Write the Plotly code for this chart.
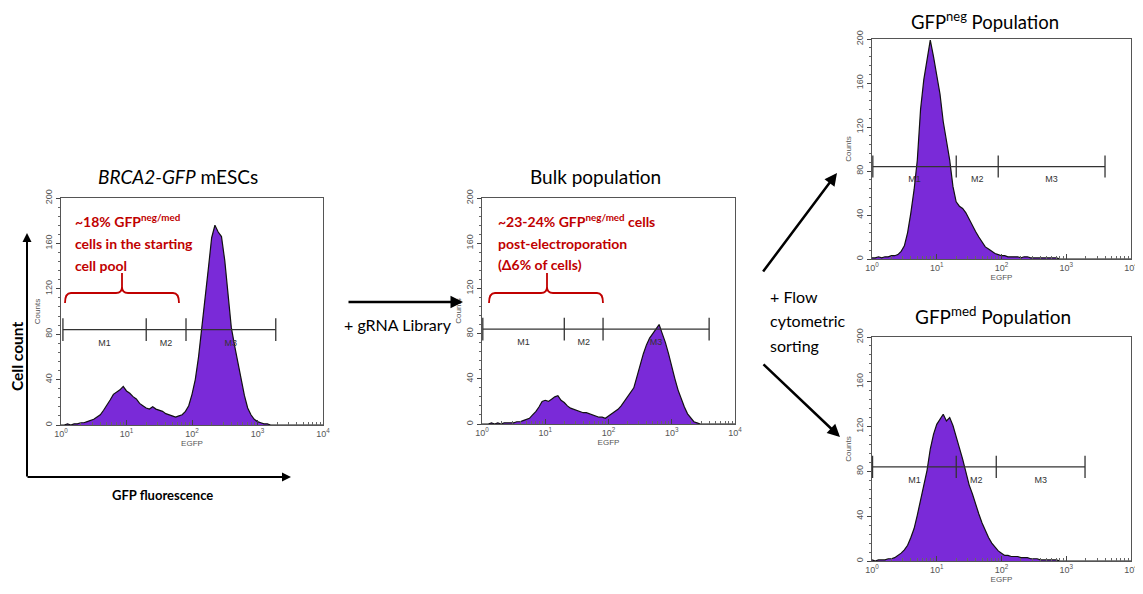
import plotly.graph_objects as go

# page body adds an 8px offset; the figure fills the rest of the 1143x594 window
OFF = 8
W, H = 1143 - OFF, 594 - OFF

# ---------------- data ----------------
# EGFP channels on a log10 scale (0.05-decade bins from 10^0 to 10^4)
log_channels = [i * 0.05 for i in range(81)]
egfp = [10 ** v for v in log_channels]

brca2_counts = [0, 0, 1, 0, 1, 1, 2, 2, 3, 4,
                5, 7, 9, 13, 17, 22, 27, 29, 31, 34,
                30, 28, 25, 23, 19, 17, 15, 14, 16, 14,
                13, 12, 10, 9, 8, 7, 8, 9, 12, 17,
                27, 40, 60, 85, 108, 138, 165, 176, 170, 166,
                145, 115, 86, 70, 55, 39, 26, 15, 9, 5,
                3, 2, 1, 1, 0, 0, 0, 0, 0, 0,
                0, 0, 0, 0, 0, 0, 0, 0, 0, 0,
                0]
bulk_counts = [0, 0, 0, 1, 0, 1, 0, 1, 1, 1,
               1, 2, 2, 3, 4, 5, 8, 11, 15, 20,
               21, 20, 22, 24, 25, 21, 19, 16, 14, 13,
               12, 11, 10, 10, 9, 8, 7, 6, 6, 5,
               7, 9, 11, 13, 16, 20, 23, 27, 32, 42,
               53, 62, 70, 76, 80, 84, 88, 80, 72, 62,
               50, 40, 30, 22, 15, 9, 5, 2, 1, 0,
               0, 0, 0, 0, 0, 0, 0, 0, 0, 0,
               0]
neg_counts = [1, 1, 2, 1, 2, 2, 3, 3, 4, 7,
              12, 24, 42, 63, 90, 136, 163, 181, 199, 184,
              168, 150, 125, 106, 90, 66, 52, 48, 46, 42,
              36, 31, 25, 20, 15, 11, 9, 7, 5, 4,
              3, 3, 2, 2, 2, 2, 1, 2, 2, 1,
              1, 1, 1, 1, 1, 1, 1, 1, 0, 0,
              0, 0, 0, 0, 0, 0, 0, 0, 0, 0,
              0, 0, 0, 0, 0, 0, 0, 0, 0, 0,
              0]
med_counts = [1, 0, 1, 1, 1, 2, 2, 3, 5, 7,
              10, 14, 21, 29, 41, 54, 68, 81, 100, 113,
              122, 127, 131, 125, 128, 121, 112, 101, 91, 80,
              68, 60, 50, 42, 34, 27, 21, 16, 12, 9,
              7, 5, 5, 4, 4, 4, 3, 3, 3, 2,
              2, 2, 1, 1, 1, 1, 1, 1, 0, 0,
              0, 0, 0, 0, 0, 0, 0, 0, 0, 0,
              0, 0, 0, 0, 0, 0, 0, 0, 0, 0,
              0]

# marker gate boundaries (M1 | M2 | M3) in EGFP units
brca2_gates = [1.07, 20, 81, 1900]
bulk_gates = [1.03, 20, 82, 3900]
neg_gates = [1.03, 20, 89, 3970]
med_gates = [1.02, 20, 83, 1950]
gate_level = 84
gate_names = ["M1", "M2", "M3"]

x_tickvals = [1, 10, 100, 1000, 10000]
x_ticktext = ["10<sup>0</sup>", "10<sup>1</sup>", "10<sup>2</sup>", "10<sup>3</sup>", "10<sup>4</sup>"]
x_minor = [m * d for d in [1, 10, 100, 1000] for m in range(2, 10)]
y_tickvals = [0, 40, 80, 120, 160, 200]

# ---------------- layout helpers (window pixel -> paper) ----------------
def px(x):
    return (x - OFF) / W

def py(y):
    return 1 - (y - OFF) / H

PURPLE = "#7A2AD8"
RED = "#C00000"
TXT = "Lato, 'Open Sans', sans-serif"
SMALL = "Liberation Sans, Arial, sans-serif"

panels = [
    dict(counts=brca2_counts, gates=brca2_gates, xd=(61, 323), yd=(198, 425)),
    dict(counts=bulk_counts, gates=bulk_gates, xd=(482, 735), yd=(198, 424)),
    dict(counts=neg_counts, gates=neg_gates, xd=(872, 1131), yd=(39, 259)),
    dict(counts=med_counts, gates=med_gates, xd=(872, 1131), yd=(337, 561)),
]

fig = go.Figure()
layout = dict(width=W, height=H, margin=dict(l=0, r=0, t=0, b=0, autoexpand=False),
              paper_bgcolor="white", plot_bgcolor="white", showlegend=False)

for i, p in enumerate(panels, start=1):
    xa = "x" if i == 1 else f"x{i}"
    ya = "y" if i == 1 else f"y{i}"
    fig.add_trace(go.Scatter(x=egfp, y=p["counts"], mode="lines", fill="tozeroy",
                             fillcolor=PURPLE, line=dict(color="#111", width=1.2),
                             xaxis=xa, yaxis=ya, hoverinfo="skip"))
    g = p["gates"]
    gx, gy = [g[0], g[3], None], [gate_level, gate_level, None]
    for v in g:
        gx += [v, v, None]
        gy += [gate_level - 10, gate_level + 10, None]
    fig.add_trace(go.Scatter(x=gx, y=gy, mode="lines", line=dict(color="#333", width=1.3),
                             xaxis=xa, yaxis=ya, hoverinfo="skip"))
    lx = [(g[k] * g[k + 1]) ** 0.5 for k in range(3)]
    fig.add_trace(go.Scatter(x=lx, y=[gate_level - 12] * 3, mode="text", text=gate_names,
                             textfont=dict(size=9, color="#333", family=SMALL),
                             xaxis=xa, yaxis=ya, hoverinfo="skip"))
    layout["xaxis" if i == 1 else f"xaxis{i}"] = dict(
        type="log", range=[0, 4], domain=[px(p["xd"][0]), px(p["xd"][1])],
        anchor=ya, automargin=False, showline=True, mirror=True, linecolor="#555", linewidth=1,
        showgrid=False, zeroline=False, ticks="inside", ticklen=5, tickcolor="#444",
        tickvals=x_tickvals, ticktext=x_ticktext,
        tickfont=dict(size=9, color="#555", family=SMALL),
        minor=dict(tickvals=x_minor, ticks="inside", ticklen=3, tickcolor="#666", showgrid=False),
        title=dict(text="EGFP", font=dict(size=8, color="#555", family=SMALL), standoff=2))
    layout["yaxis" if i == 1 else f"yaxis{i}"] = dict(
        range=[0, 200], domain=[py(p["yd"][1]), py(p["yd"][0])],
        anchor=xa, automargin=False, showline=True, mirror=True, linecolor="#555", linewidth=1,
        showgrid=False, zeroline=False, ticks="outside", ticklen=4, tickcolor="#444",
        tickvals=y_tickvals, tickangle=-90,
        tickfont=dict(size=9, color="#555", family=SMALL),
        minor=dict(dtick=8, ticks="outside", ticklen=2, tickcolor="#666", showgrid=False),
        title=dict(text="Counts", font=dict(size=8, color="#555", family=SMALL), standoff=2))

ann = []

def text(x, y, t, size, color="black", anchor="center", angle=0):
    ann.append(dict(x=px(x), y=py(y), xref="paper", yref="paper", text=t, showarrow=False,
                    xanchor=anchor, yanchor="middle", textangle=angle,
                    font=dict(family=TXT, size=size, color=color)))

def arrow(hx, hy, tx, ty, width=2.5, size=1.0):
    ann.append(dict(x=px(hx), y=py(hy), xref="paper", yref="paper", text="",
                    showarrow=True, ax=tx - hx, ay=ty - hy, axref="pixel", ayref="pixel",
                    arrowhead=2, arrowsize=size, arrowwidth=width, arrowcolor="black",
                    standoff=0, startstandoff=0))

# titles
text(178, 177, "<i>BRCA2-GFP</i> mESCs", 19)
text(595, 176, "Bulk population", 19)
text(985, 21, "GFP<sup>neg</sup> Population", 18.5)
text(993, 315, "GFP<sup>med</sup> Population", 19)

# red notes
text(73, 220, "<b>~18% GFP<sup>neg/med</sup></b>", 14, RED, "left")
text(73, 243, "<b>cells in the starting</b>", 14, RED, "left")
text(73, 265, "<b>cell pool</b>", 14, RED, "left")
text(496, 220, "<b>~23-24% GFP<sup>neg/med</sup> cells</b>", 14, RED, "left")
text(496, 243, "<b>post-electroporation</b>", 14, RED, "left")
text(496, 264, "<b>(Δ6% of cells)</b>", 14, RED, "left")

# process labels
text(398, 324, "+ gRNA Library", 16)
text(768, 296, "+ Flow", 16, anchor="left")
text(768, 320, "cytometric", 16, anchor="left")
text(768, 345, "sorting", 16, anchor="left")

# overall axis labels
text(17, 357, "<b>Cell count</b>", 15.5, angle=-90)
text(162, 495, "<b>GFP fluorescence</b>", 13)

# arrows
arrow(463, 302, 347, 302)
arrow(837, 173, 762, 273)
arrow(840, 437, 762, 363)
arrow(27, 233, 27, 478, width=2, size=0.9)
arrow(291, 477, 26, 477, width=2, size=0.9)

layout["annotations"] = ann

def brace(x0, x1, xm, ybar, yend, ytop):
    r = 6
    pts = (f"M{px(x0)},{py(yend)} Q{px(x0)},{py(ybar)} {px(x0 + r)},{py(ybar)} "
           f"L{px(xm - r)},{py(ybar)} Q{px(xm)},{py(ybar)} {px(xm)},{py(ybar - r)} "
           f"L{px(xm)},{py(ytop)} M{px(xm)},{py(ybar - r)} Q{px(xm)},{py(ybar)} {px(xm + r)},{py(ybar)} "
           f"L{px(x1 - r)},{py(ybar)} Q{px(x1)},{py(ybar)} {px(x1)},{py(yend)}")
    return dict(type="path", xref="paper", yref="paper", path=pts,
                line=dict(color=RED, width=1.8))

layout["shapes"] = [brace(65, 179, 122, 293, 303, 273),
                    brace(489, 603, 547, 293, 303, 273)]

fig.update_layout(**layout)
fig.write_html("out.html")
